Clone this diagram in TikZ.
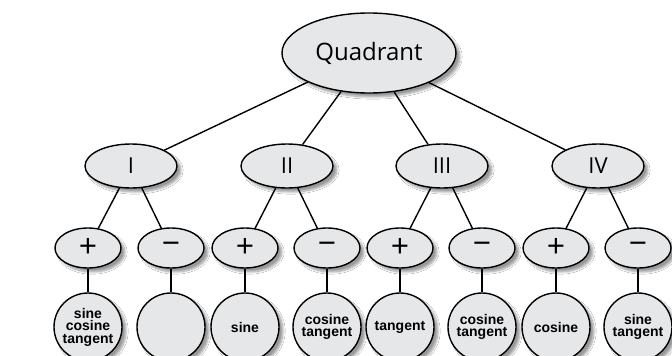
\documentclass[tikz,border=0pt]{standalone}
\usepackage{fontspec}
\setmainfont{Open Sans}
\newfontfamily\labfont{Liberation Sans}
\usetikzlibrary{shapes.geometric,shadows.blur}
\definecolor{nodegray}{HTML}{E6E7E8}
\begin{document}
\begin{tikzpicture}[x=1pt,y=-1pt,
  shad/.style={blur shadow={shadow xshift=4pt,shadow yshift=-4pt,shadow blur steps=8,shadow opacity=40}},
  bub/.style={ellipse,draw=black,line width=1.4pt,fill=nodegray,inner sep=0pt,shad},
  topnode/.style={bub,minimum width=174pt,minimum height=80pt,font=\fontsize{24}{24}\selectfont},
  quadnode/.style={bub,minimum width=92pt,minimum height=44pt,font=\fontsize{22}{22}\selectfont},
  signnode/.style={bub,minimum width=66pt,minimum height=40pt,font=\fontsize{32}{32}\selectfont},
  leaf/.style={circle,draw=black,line width=1.4pt,fill=nodegray,inner sep=0pt,minimum size=68pt,shad,align=center,font=\labfont\bfseries\fontsize{14}{12.5}\selectfont},
  conn/.style={draw=black,line width=1.4pt}]
\clip (0,0) rectangle (672,356);
\fill[white] (0,0) rectangle (672,356);
\node[topnode] (Q) at (369,53) {Quadrant};
\node[quadnode] (q1) at (131,166) {I};
\node[quadnode] (q2) at (287,166) {II};
\node[quadnode] (q3) at (442,166) {III};
\node[quadnode] (q4) at (598,166) {IV};
\node[signnode] (s1) at (88,248) {+};
\node[signnode] (s2) at (171,248) {−};
\node[signnode] (s3) at (245,248) {+};
\node[signnode] (s4) at (327,248) {−};
\node[signnode] (s5) at (400,248) {+};
\node[signnode] (s6) at (482,248) {−};
\node[signnode] (s7) at (556,248) {+};
\node[signnode] (s8) at (638,248) {−};
\node[leaf] (l1) at (88,327) {sine\\cosine\\tangent};
\node[leaf] (l2) at (171,327) {};
\node[leaf] (l3) at (245,327) {sine};
\node[leaf] (l4) at (327,327) {cosine\\tangent};
\node[leaf] (l5) at (400,327) {tangent};
\node[leaf] (l6) at (482,327) {cosine\\tangent};
\node[leaf] (l7) at (556,327) {cosine};
\node[leaf] (l8) at (638,327) {sine\\tangent};
\foreach \q in {1,2,3,4} \draw[conn] (Q) -- (q\q);
\draw[conn] (q1) -- (s1); \draw[conn] (q1) -- (s2);
\draw[conn] (q2) -- (s3); \draw[conn] (q2) -- (s4);
\draw[conn] (q3) -- (s5); \draw[conn] (q3) -- (s6);
\draw[conn] (q4) -- (s7); \draw[conn] (q4) -- (s8);
\foreach \i in {1,...,8} \draw[conn] (s\i) -- (l\i);
\end{tikzpicture}
\end{document}
